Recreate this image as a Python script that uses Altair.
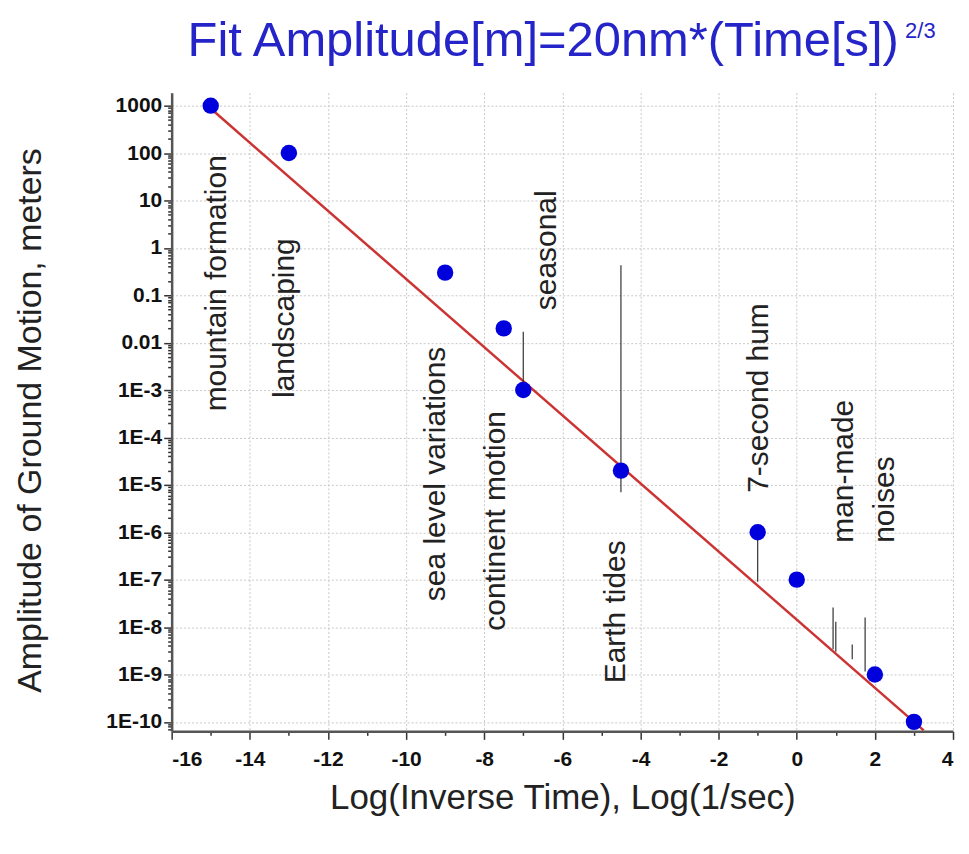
import altair as alt
import pandas as pd

# ---------------- data ----------------
pt_x = [-15, -13, -9, -7.5, -7, -4.5, -1, 0, 2, 3]
pt_y = [1000, 100, 0.3, 0.02, 1e-3, 2e-5, 1e-6, 1e-7, 1e-9, 1e-10]

fit_x = [-15, 3.25]
fit_y = [870, 6.6e-11]

spike_x = [-7, -4.5, -1, 0.93, 1.0, 1.42, 1.75]
spike_lo = [1.2e-3, 7e-6, 9e-8, 3.4e-9, 3e-9, 2.1e-9, 1.15e-9]
spike_hi = [0.017, 0.43, 1e-6, 2.6e-8, 1.3e-8, 4.3e-9, 1.6e-8]

label_text = ["mountain formation", "landscaping", "sea level variations",
              "continent motion", "seasonal", "Earth tides", "7-second hum"]
label_x = [-14.85, -13.11, -9.23, -7.70, -6.40, -4.63, -0.96]
label_y = [0.179, 0.033, 1.7e-5, 1.74e-6, 0.89, 2.1e-8, 6.8e-4]

note_text = ["man-made", "noises"]
note_x = [1.22, 2.26]
note_y = [6.0e-7, 6.0e-7]

title_main = "Fit Amplitude[m]=20nm*(Time[s])"
title_sup = "2/3"
x_title = "Log(Inverse Time), Log(1/sec)"
y_title = "Amplitude of Ground Motion, meters"

x_ticks = list(range(-16, 5))
y_lo, y_hi = 10 ** -10.2, 10 ** 3.274
y_ticks = [m * 10.0 ** k for k in range(-11, 4) for m in range(1, 10)
           if y_lo <= m * 10.0 ** k <= y_hi]

# ---------------- frames ----------------
pts = pd.DataFrame({"x": pt_x, "y": pt_y})
fit = pd.DataFrame({"x": fit_x, "y": fit_y})
spk = pd.DataFrame({"x": spike_x, "y": spike_lo, "y2": spike_hi})
lab = pd.DataFrame({"x": label_x, "y": label_y, "t": label_text})
nts = pd.DataFrame({"x": note_x, "y": note_y, "t": note_text})
ttl = pd.DataFrame({"t": [title_main]})
sup = pd.DataFrame({"t": [title_sup]})

FONT = "Liberation Sans"
dec_test = "abs(log(datum.value)/LN10 - round(log(datum.value)/LN10)) < 0.01"

x_axis = alt.Axis(
    values=x_ticks,
    labelExpr="datum.value % 2 == 0 ? '' + datum.value : ''",
    tickSize={"condition": {"test": "datum.value % 2 == 0", "value": 8}, "value": 4},
    gridOpacity={"condition": {"test": "datum.value % 2 == 0", "value": 1}, "value": 0},
    grid=True, gridColor="#c8c8c8", gridDash=[2, 2], gridWidth=1,
    domainColor="#555555", domainWidth=2.5, tickColor="#333333", tickWidth=1.5,
    labelFont=FONT, labelFontSize=21, labelFontWeight="bold", labelColor="#111111",
    labelPadding=9, labelOverlap=False,
    title=x_title, titleFont=FONT, titleFontSize=35, titleFontWeight="normal",
    titleColor="#222222", titleY=77, titleBaseline="alphabetic",
)

y_axis = alt.Axis(
    values=y_ticks,
    labelExpr="abs(log(datum.value)/LN10 - round(log(datum.value)/LN10)) > 0.01 ? '' : "
              "(datum.value >= 0.009 ? format(datum.value, '~g') : '1E' + round(log(datum.value)/LN10))",
    tickSize={"condition": {"test": dec_test, "value": 8}, "value": 4},
    gridOpacity={"condition": {"test": dec_test, "value": 1}, "value": 0},
    grid=True, gridColor="#c8c8c8", gridDash=[2, 2], gridWidth=1,
    domainColor="#555555", domainWidth=2.5, tickColor="#333333", tickWidth=1.5,
    labelFont=FONT, labelFontSize=21, labelFontWeight="bold", labelColor="#111111",
    labelPadding=2, labelOverlap=False, labelBound=False,
    title=y_title, titleFont=FONT, titleFontSize=34, titleFontWeight="normal",
    titleColor="#222222", titleX=-141, titleY=328, titleBaseline="middle", titleAlign="center",
)

xs = alt.Scale(domain=[-16, 4], nice=False, zero=False)
ys = alt.Scale(type="log", domain=[y_lo, y_hi], nice=False)


def X():
    return alt.X("x:Q", scale=xs, axis=x_axis)


def Y():
    return alt.Y("y:Q", scale=ys, axis=y_axis)


line = alt.Chart(fit).mark_line(color="#cc3333", strokeWidth=2.5).encode(x=X(), y=Y())
rules = alt.Chart(spk).mark_rule(color="#333333", strokeWidth=1.2).encode(x=X(), y=Y(), y2="y2:Q")
points = alt.Chart(pts).mark_circle(color="#0000dd", size=270, opacity=1).encode(x=X(), y=Y())
labels = alt.Chart(lab).mark_text(
    angle=270, font=FONT, fontSize=30, color="#222222", align="center", baseline="middle"
).encode(x=X(), y=Y(), text="t:N")
notes = alt.Chart(nts).mark_text(
    angle=270, font=FONT, fontSize=30, color="#222222", align="left", baseline="middle"
).encode(x=X(), y=Y(), text="t:N")
title_t = alt.Chart(ttl).mark_text(
    font=FONT, fontSize=49, color="#2424c8", align="left", baseline="alphabetic"
).encode(x=alt.value(16), y=alt.value(-37), text="t:N")
sup_t = alt.Chart(sup).mark_text(
    font=FONT, fontSize=22, color="#2424c8", align="left", baseline="alphabetic"
).encode(x=alt.value(735), y=alt.value(-55), text="t:N")

chart = alt.layer(line, rules, points, labels, notes, title_t, sup_t).properties(
    width=783, height=640,
    padding={"left": 164, "top": 84, "right": 8, "bottom": 100},
    autosize=alt.AutoSizeParams(type="none"),
    background="white",
).configure_view(stroke=None)

chart.save("out.html", embed_options={"renderer": "svg", "actions": False})
